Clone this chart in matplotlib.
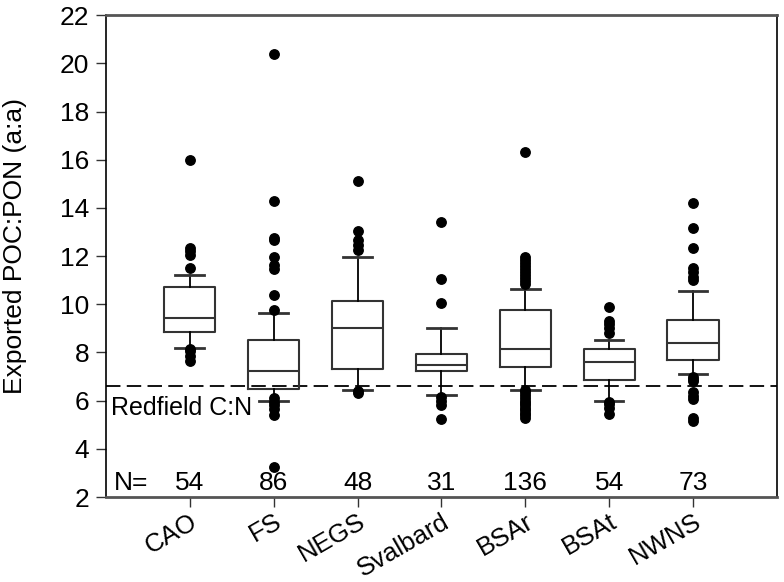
import numpy as np
import matplotlib
matplotlib.use("Agg")
import matplotlib.pyplot as plt

plt.rcParams['font.family'] = ['Liberation Sans', 'DejaVu Sans']

# Regions and sample counts
regions = ['CAO', 'FS', 'NEGS', 'Svalbard', 'BSAr', 'BSAt', 'NWNS']
counts = [54, 86, 48, 31, 136, 54, 73]

# Box statistics
q1 = [8.85, 6.50, 7.30, 7.24, 7.40, 6.85, 7.68]
medians = [9.45, 7.25, 9.00, 7.50, 8.15, 7.60, 8.40]
q3 = [10.70, 8.50, 10.15, 7.95, 9.75, 8.15, 9.35]
whisker_lo = [8.20, 6.00, 6.45, 6.25, 6.45, 6.00, 7.10]
whisker_hi = [11.20, 9.65, 11.95, 9.00, 10.65, 8.50, 10.55]

# Outliers
fliers = [
    [16.0, 12.35, 12.2, 12.05, 11.5, 8.15, 8.05, 7.85, 7.65],
    [20.4, 14.3, 12.75, 12.65, 11.95, 11.65, 11.45, 10.4, 9.75,
     6.1, 5.95, 5.8, 5.65, 5.4, 3.25],
    [15.1, 13.05, 12.65, 12.45, 12.25, 6.4, 6.3],
    [13.4, 11.05, 10.05, 6.15, 6.0, 5.8, 5.25],
    [16.3, 11.95, 11.85, 11.7, 11.6, 11.45, 11.35, 11.2, 11.1, 10.95, 10.85,
     6.45, 6.35, 6.25, 6.1, 6.0, 5.9, 5.8, 5.7, 5.6, 5.5, 5.4, 5.3],
    [9.9, 9.3, 9.2, 9.0, 8.8, 5.95, 5.85, 5.7, 5.45],
    [14.2, 13.15, 12.35, 11.5, 11.35, 11.15, 11.0, 7.0, 6.9, 6.8,
     6.35, 6.2, 6.05, 5.3, 5.15],
]

redfield = 106 / 16

stats = []
for i in range(len(regions)):
    stats.append(dict(label=regions[i], med=medians[i], q1=q1[i], q3=q3[i],
                      whislo=whisker_lo[i], whishi=whisker_hi[i],
                      fliers=fliers[i]))

fig = plt.figure(figsize=(7.84, 5.82), dpi=100)
ax = fig.add_axes([0.135, 0.146, 0.856, 0.828])

pos = np.arange(1, len(regions) + 1)
edge = '#333333'
ax.bxp(stats, positions=pos, widths=0.61, capwidths=0.34,
       boxprops=dict(color=edge, linewidth=1.5),
       medianprops=dict(color=edge, linewidth=1.5),
       whiskerprops=dict(color='black', linewidth=1.3),
       capprops=dict(color=edge, linewidth=2),
       flierprops=dict(marker='o', markerfacecolor='black',
                       markeredgecolor='black', markersize=6.8))

ax.axhline(redfield, color='black', linewidth=1.3, dashes=(8, 3.5), zorder=0)
ax.text(0.06, 5.7, 'Redfield C:N', fontsize=18, va='center', ha='left')

ax.text(0.30, 2.6, 'N=', fontsize=19, va='center', ha='center')
for p, n in zip(pos, counts):
    ax.text(p, 2.6, str(n), fontsize=19, va='center', ha='center')

ax.set_xlim(0, 8)
ax.set_ylim(2, 22)
ax.set_yticks(np.arange(2, 23, 2))
ax.set_xticks(pos)
ax.set_xticklabels(regions, rotation=30, ha='right', rotation_mode='anchor')
ax.tick_params(axis='both', labelsize=19, direction='out', length=7,
               width=1, color='#333333')
ax.tick_params(axis='x', pad=2, labelsize=18.5)
ax.tick_params(axis='y', pad=5)
ax.set_ylabel('Exported POC:PON (a:a)', fontsize=19)
ax.yaxis.set_label_coords(-0.118, 0.52)

for s in ['top', 'bottom']:
    ax.spines[s].set_color('#555555')
    ax.spines[s].set_linewidth(2)
for s in ['left', 'right']:
    ax.spines[s].set_color('black')
    ax.spines[s].set_linewidth(1.2)

fig.savefig('out.png', dpi=100)
